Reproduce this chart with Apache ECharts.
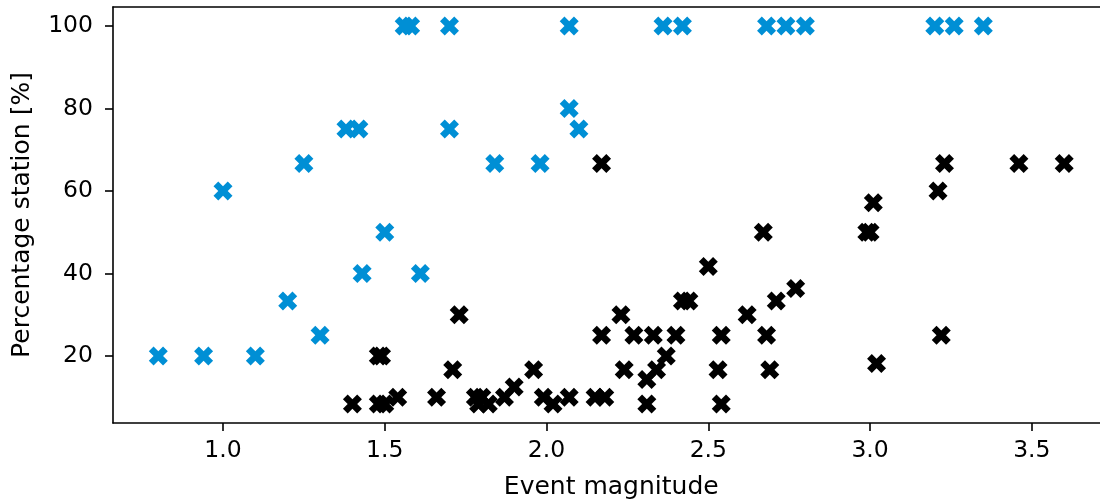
<!DOCTYPE html>
<html>
<head>
<meta charset="utf-8">
<script src="https://cdn.jsdelivr.net/npm/echarts@6/dist/echarts.min.js"></script>
<style>
  html, body { margin: 0; padding: 0; background: #fff; overflow: hidden; }
  #chart { width: 1120px; height: 504px; }
</style>
</head>
<body>
<div id="chart"></div>
<script>
// 蓝色点：[震级, 百分比]
const bluePoints = [
  [0.8, 20], [0.94, 20], [1.0, 60], [1.1, 20], [1.2, 33.33], [1.25, 66.67],
  [1.3, 25], [1.38, 75], [1.42, 75], [1.43, 40], [1.5, 50], [1.56, 100],
  [1.58, 100], [1.61, 40], [1.7, 100], [1.7, 75], [1.84, 66.67], [1.98, 66.67],
  [2.07, 100], [2.07, 80], [2.1, 75], [2.36, 100], [2.42, 100], [2.68, 100],
  [2.74, 100], [2.8, 100], [3.2, 100], [3.26, 100], [3.35, 100]
];

// 黑色点
const blackPoints = [
  [1.4, 8.33], [1.48, 20], [1.49, 20], [1.48, 8.33], [1.5, 8.33], [1.54, 10],
  [1.66, 10], [1.71, 16.67], [1.73, 30], [1.78, 10], [1.8, 10], [1.79, 8.33],
  [1.82, 8.33], [1.87, 10], [1.9, 12.5], [1.96, 16.67], [1.99, 10], [2.02, 8.33],
  [2.07, 10], [2.15, 10], [2.18, 10], [2.17, 25], [2.17, 66.67], [2.23, 30],
  [2.24, 16.67], [2.27, 25], [2.31, 8.33], [2.31, 14.29], [2.34, 16.67],
  [2.33, 25], [2.37, 20], [2.4, 25], [2.42, 33.33], [2.44, 33.33], [2.5, 41.67],
  [2.53, 16.67], [2.54, 8.33], [2.54, 25], [2.62, 30], [2.67, 50], [2.68, 25],
  [2.69, 16.67], [2.71, 33.33], [2.77, 36.36], [2.99, 50], [3.0, 50],
  [3.01, 57.14], [3.02, 18.18], [3.21, 60], [3.23, 66.67], [3.22, 25],
  [3.46, 66.67], [3.6, 66.67]
];

// 刻度
const xTicks = [1.0, 1.5, 2.0, 2.5, 3.0, 3.5];
const yTicks = [20, 40, 60, 80, 100];

// 粗 X 形标记
const xMarker = 'path://M3,0L4,1L3,2L4,3L3,4L2,3L1,4L0,3L1,2L0,1L1,0L2,1Z';

const font = 'DejaVu Sans';
const chart = echarts.init(document.getElementById('chart'), null, { renderer: 'canvas' });

const axisLine = { show: true, onZero: false, lineStyle: { color: '#000', width: 1.6 } };

chart.setOption({
  backgroundColor: '#fff',
  animation: false,
  grid: {
    left: 113, top: 7, width: 996.5, height: 416,
    containLabel: false, outerBoundsMode: 'none'
  },
  xAxis: [
    {
      type: 'value', min: 0.66, max: 3.74,
      name: 'Event magnitude', nameLocation: 'middle', nameGap: 52,
      nameTextStyle: { fontFamily: font, fontSize: 25, color: '#000' },
      axisLine: axisLine,
      axisTick: { show: true, length: 8, lineStyle: { color: '#000', width: 1.6 }, customValues: xTicks },
      axisLabel: {
        fontFamily: font, fontSize: 23.5, color: '#000', margin: 16,
        customValues: xTicks, formatter: v => v.toFixed(1)
      },
      splitLine: { show: false }
    },
    {
      // 上边框
      type: 'value', position: 'top', min: 0.66, max: 3.74,
      axisLine: axisLine, axisTick: { show: false }, axisLabel: { show: false },
      splitLine: { show: false }
    }
  ],
  yAxis: {
    type: 'value', min: 3.75, max: 104.58,
    name: 'Percentage station [%]', nameLocation: 'middle', nameGap: 78,
    nameTextStyle: { fontFamily: font, fontSize: 25, color: '#000' },
    axisLine: axisLine,
    axisTick: { show: true, length: 8, lineStyle: { color: '#000', width: 1.6 }, customValues: yTicks },
    axisLabel: {
      fontFamily: font, fontSize: 23.5, color: '#000', margin: 20,
      customValues: yTicks, formatter: v => String(v)
    },
    splitLine: { show: false }
  },
  series: [
    {
      type: 'scatter', data: bluePoints, symbol: xMarker, symbolSize: 19,
      itemStyle: { color: '#008fd5', opacity: 1 }
    },
    {
      type: 'scatter', data: blackPoints, symbol: xMarker, symbolSize: 19,
      itemStyle: { color: '#000', opacity: 1 }
    }
  ]
});
</script>
</body>
</html>
